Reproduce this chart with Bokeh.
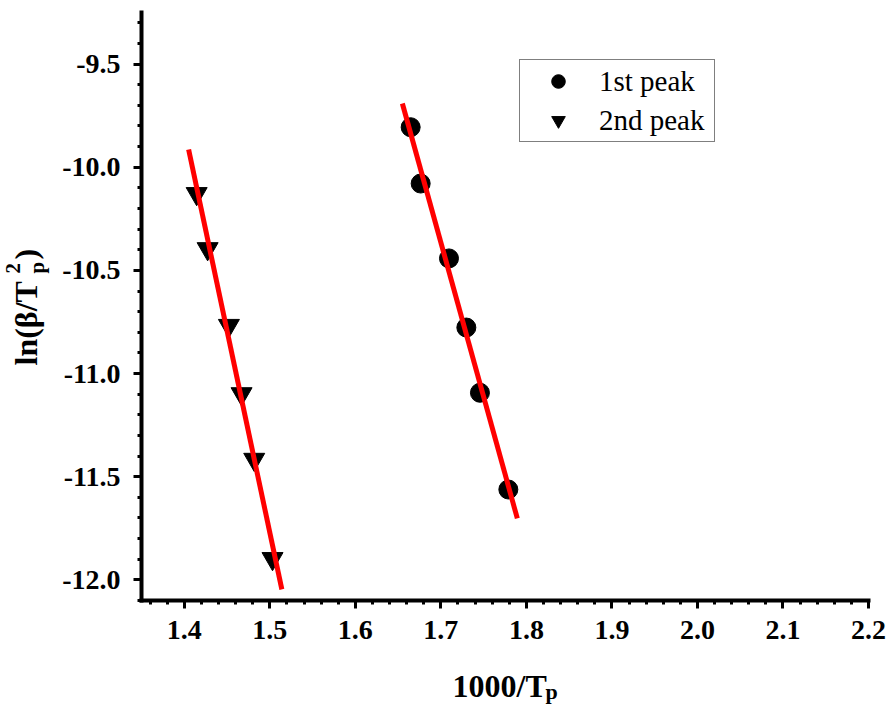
import math
from bokeh.plotting import figure
from bokeh.models import FixedTicker, NumeralTickFormatter, Label, Legend, LegendItem, Range1d
from bokeh.embed import file_html
from bokeh.resources import INLINE

# ---- data ----
peak1_x = [1.6647, 1.6764, 1.7095, 1.7298, 1.7457, 1.7789]
peak1_y = [-9.806, -10.079, -10.442, -10.777, -11.093, -11.562]
peak2_x = [1.4145, 1.4273, 1.4522, 1.4670, 1.4818, 1.5032]
peak2_y = [-10.128, -10.395, -10.767, -11.098, -11.416, -11.897]
fit1_x = [1.655, 1.7894]
fit1_y = [-9.691, -11.702]
fit2_x = [1.4051, 1.5141]
fit2_y = [-9.914, -12.046]

x_ticks = [1.4, 1.5, 1.6, 1.7, 1.8, 1.9, 2.0, 2.1, 2.2]
y_ticks = [-12.0, -11.5, -11.0, -10.5, -10.0, -9.5]
x_axis_range = (1.35, 2.2)
y_axis_range = (-12.1, -9.25)

# ---- layout (pixels) ----
W, H = 889, 711
AX_L, AX_R, AX_T, AX_B = 141, 868, 12, 600   # where the axes box sits on the canvas

sx = (AX_R - AX_L) / (x_axis_range[1] - x_axis_range[0])
sy = (AX_B - AX_T) / (y_axis_range[1] - y_axis_range[0])
view_x = (x_axis_range[0] - AX_L / sx, x_axis_range[1] + (W - AX_R) / sx)
view_y = (y_axis_range[0] - (H - AX_B) / sy, y_axis_range[1] + AX_T / sy)

p = figure(width=W, height=H, output_backend="svg", toolbar_location=None,
           x_range=Range1d(*view_x), y_range=Range1d(*view_y),
           min_border=0, min_border_left=0, min_border_right=0,
           min_border_top=0, min_border_bottom=0)
p.outline_line_color = None
p.xgrid.visible = False
p.ygrid.visible = False
p.background_fill_color = "white"
p.border_fill_color = "white"

def minors(ticks, lo, hi, n=5):
    step = (ticks[1] - ticks[0]) / n
    out = []
    k = -20
    while True:
        v = ticks[0] + k * step
        if v > hi + 1e-9:
            break
        if v >= lo - 1e-9:
            out.append(round(v, 6))
        k += 1
    return out

p.xaxis.ticker = FixedTicker(ticks=x_ticks, minor_ticks=minors(x_ticks, *x_axis_range))
p.yaxis.ticker = FixedTicker(ticks=y_ticks, minor_ticks=minors(y_ticks, *y_axis_range))
p.xaxis.formatter = NumeralTickFormatter(format="0.0")
p.yaxis.formatter = NumeralTickFormatter(format="0.0")
p.xaxis.bounds = x_axis_range
p.yaxis.bounds = y_axis_range
p.xaxis.fixed_location = y_axis_range[0]
p.yaxis.fixed_location = x_axis_range[0]

for ax in (p.xaxis, p.yaxis):
    ax.axis_line_width = 4
    ax.axis_line_color = "black"
    ax.axis_line_cap = "square"
    ax.major_tick_line_width = 3
    ax.minor_tick_line_width = 3
    ax.major_tick_line_color = "black"
    ax.minor_tick_line_color = "black"
    ax.major_tick_out = 8
    ax.major_tick_in = 0
    ax.minor_tick_out = 4
    ax.minor_tick_in = 0
    ax.major_label_text_font = "Liberation Serif"
    ax.major_label_text_font_style = "bold"
    ax.major_label_text_font_size = "28px"
    ax.major_label_text_color = "black"
p.xaxis.major_label_standoff = 12
p.yaxis.major_label_standoff = 13

r1 = p.scatter(peak1_x, peak1_y, marker="circle", size=19, fill_color="black", line_color="black")
r2 = p.scatter(peak2_x, peak2_y, marker="inverted_triangle", size=21, fill_color="black", line_color="black")
p.line(fit1_x, fit1_y, line_color="#FF0000", line_width=5)
p.line(fit2_x, fit2_y, line_color="#FF0000", line_width=5)

legend = Legend(items=[LegendItem(label="1st peak", renderers=[r1]),
                       LegendItem(label="2nd peak", renderers=[r2])],
                location=(519, H - 142))
legend.margin = 0
legend.padding = 4
legend.spacing = 5
legend.glyph_width = 68
legend.glyph_height = 34
legend.label_height = 34
legend.label_width = 111
legend.label_standoff = 7
legend.label_text_font = "Liberation Serif"
legend.label_text_font_size = "29px"
legend.label_text_color = "black"
legend.border_line_color = "black"
legend.border_line_width = 1
legend.background_fill_alpha = 1
p.add_layout(legend)

def px2x(px):
    return view_x[0] + px / sx
def py2y(py):
    return view_y[1] - py / sy

def lab(text, px, py, size, angle=0.0):
    p.add_layout(Label(x=px2x(px), y=py2y(py), text=text, angle=angle,
                       text_font="Liberation Serif", text_font_style="bold",
                       text_font_size=size, text_color="black",
                       text_align="left", text_baseline="alphabetic"))

# x title: 1000/T_p
lab("1000/T", 452, 685, "32px")
lab("p", 545, 691, "22px")

# y title: ln(beta/T_p^2) rotated
A = math.pi / 2
lab("ln(\u03b2/T", 25, 365, "32px", A)
lab("2", 12, 273, "21px", A)
lab("p", 36, 273, "21px", A)
lab(")", 25, 259, "32px", A)

open("out.html", "w").write(file_html(p, INLINE))
